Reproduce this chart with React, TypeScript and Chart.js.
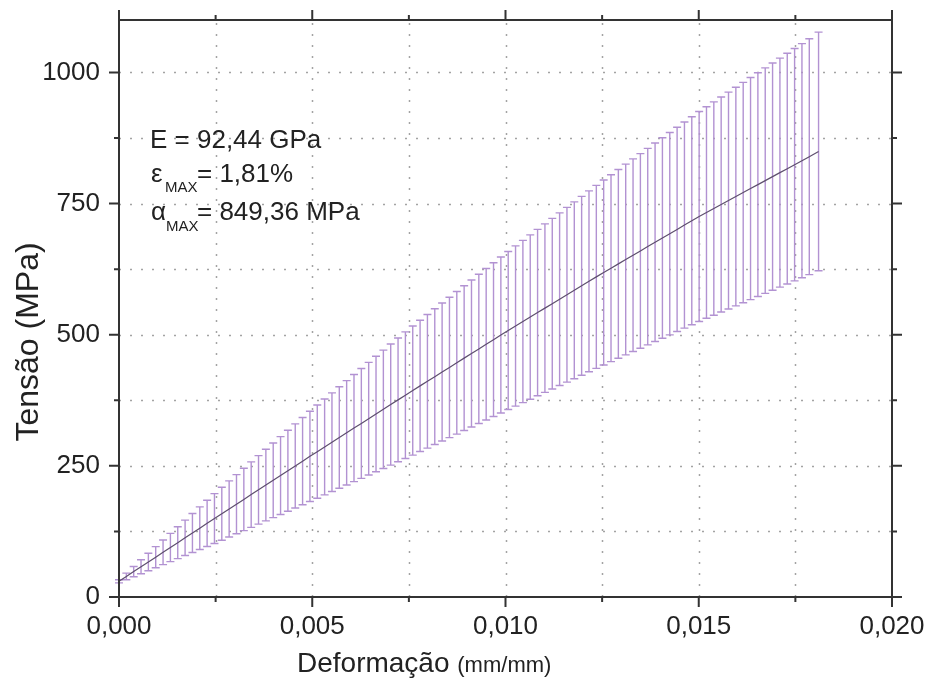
import React, { useEffect, useRef } from "react";
import { Chart, registerables } from "chart.js";

Chart.register(...registerables);

// Strain (mm/mm) of each averaged sample
const strain = [
  0.0, 0.00019, 0.00038, 0.00057, 0.00076, 0.00095, 0.00114, 0.00133, 0.00152, 0.00171,
  0.0019, 0.00209, 0.00228, 0.00247, 0.00266, 0.00285, 0.00304, 0.00323, 0.00342, 0.00361,
  0.0038, 0.00399, 0.00418, 0.00437, 0.00456, 0.00475, 0.00494, 0.00513, 0.00532, 0.00551,
  0.0057, 0.00589, 0.00608, 0.00627, 0.00646, 0.00665, 0.00684, 0.00703, 0.00722, 0.00741,
  0.0076, 0.00779, 0.00798, 0.00817, 0.00836, 0.00855, 0.00874, 0.00893, 0.00912, 0.00931,
  0.0095, 0.00969, 0.00988, 0.01007, 0.01026, 0.01045, 0.01064, 0.01083, 0.01102, 0.01121,
  0.0114, 0.01159, 0.01178, 0.01197, 0.01216, 0.01235, 0.01254, 0.01273, 0.01292, 0.01311,
  0.0133, 0.01349, 0.01368, 0.01387, 0.01406, 0.01425, 0.01444, 0.01463, 0.01482, 0.01501,
  0.0152, 0.01539, 0.01558, 0.01577, 0.01596, 0.01615, 0.01634, 0.01653, 0.01672, 0.01691,
  0.0171, 0.01729, 0.01748, 0.01767, 0.01786, 0.0181,
];

// Mean stress (MPa)
const meanStress = [
  30, 39.2, 48.4, 57.6, 66.8, 76.0, 85.2, 94.4, 103.6, 112.8,
  122.0, 131.2, 140.4, 149.5, 158.7, 167.8, 176.9, 186.0, 195.2, 204.3,
  213.4, 222.5, 231.6, 240.8, 249.9, 259.0, 268.1, 277.1, 286.1, 295.1,
  304.0, 313.0, 322.0, 330.9, 339.9, 348.9, 357.8, 366.8, 375.8, 384.8,
  393.6, 402.5, 411.3, 420.1, 428.9, 437.7, 446.5, 455.4, 464.2, 473.0,
  481.8, 490.6, 499.4, 508.1, 516.6, 525.2, 533.7, 542.2, 550.7, 559.2,
  567.7, 576.2, 584.7, 593.3, 601.8, 610.3, 618.7, 626.9, 635.1, 643.4,
  651.6, 659.8, 668.0, 676.2, 684.4, 692.6, 700.8, 709.0, 717.2, 725.4,
  733.0, 740.6, 748.2, 755.8, 763.4, 771.0, 778.6, 786.2, 793.8, 801.4,
  809.0, 816.6, 824.2, 831.8, 839.4, 849.4,
];

// Standard deviation (MPa) for the error bars
const stdDev = [
  3, 6.4, 9.8, 13.3, 16.7, 20.1, 23.5, 26.9, 30.4, 33.8,
  37.2, 40.6, 44.0, 47.5, 50.5, 53.5, 56.4, 59.4, 62.4, 65.3,
  68.3, 71.2, 74.2, 77.2, 80.1, 83.1, 86.1, 88.8, 91.5, 94.1,
  96.8, 99.5, 102.1, 104.8, 107.4, 110.1, 112.8, 115.4, 118.1, 120.7,
  123.1, 125.2, 127.4, 129.5, 131.6, 133.8, 135.9, 138.0, 140.1, 142.3,
  144.4, 146.5, 148.7, 150.7, 152.7, 154.7, 156.7, 158.6, 160.6, 162.6,
  164.6, 166.5, 168.5, 170.5, 172.5, 174.4, 176.4, 178.2, 180.0, 181.9,
  183.7, 185.5, 187.3, 189.2, 191.0, 192.8, 194.6, 196.5, 198.3, 200.1,
  201.7, 203.4, 205.0, 206.7, 208.4, 210.0, 211.7, 213.3, 215.0, 216.6,
  218.3, 219.9, 221.6, 223.2, 224.9, 227.4,
];

const xTickValues = [0, 0.005, 0.01, 0.015, 0.02];
const xMinorValues = [0.0025, 0.0075, 0.0125, 0.0175];
const yTickValues = [0, 250, 500, 750, 1000];
const yMinorValues = [125, 375, 625, 875];

const xTitleMain = "Deformação";
const xTitleUnit = "(mm/mm)";
const yTitle = "Tensão (MPa)";
const annotE = "E = 92,44 GPa";
const annotEps = ["ε", "MAX", "= 1,81%"];
const annotSigma = ["α", "MAX", "= 849,36 MPa"];

const FONT = "'Liberation Sans', Arial, Helvetica, sans-serif";
const TEXT = "#222222";

export default function App() {
  const ref = useRef<HTMLCanvasElement>(null);

  useEffect(() => {
    const canvas = ref.current;
    if (!canvas) return;

    const points = strain.map((x, i) => ({ x, y: meanStress[i] }));

    const decorPlugin = {
      id: "decor",
      beforeDatasetsDraw(chart: any) {
        const { ctx, chartArea: a, scales } = chart;
        const xs = scales.x;
        const ys = scales.y;
        ctx.save();
        // dotted grid
        ctx.strokeStyle = "#a3a3a3";
        ctx.lineWidth = 1.5;
        ctx.setLineDash([2, 9]);
        for (const v of [...xTickValues, ...xMinorValues]) {
          if (v <= 0 || v >= 0.02) continue;
          const px = Math.round(xs.getPixelForValue(v)) + 0.5;
          ctx.beginPath();
          ctx.moveTo(px, a.bottom);
          ctx.lineTo(px, a.top);
          ctx.stroke();
        }
        for (const v of [...yTickValues, ...yMinorValues]) {
          if (v <= 0) continue;
          const py = Math.round(ys.getPixelForValue(v)) + 0.5;
          ctx.beginPath();
          ctx.moveTo(a.left, py);
          ctx.lineTo(a.right, py);
          ctx.stroke();
        }
        ctx.setLineDash([]);
        // error bars
        ctx.strokeStyle = "#b292d2";
        ctx.lineWidth = 1.4;
        strain.forEach((s, i) => {
          const px = xs.getPixelForValue(s);
          const top = ys.getPixelForValue(meanStress[i] + stdDev[i]);
          const bot = ys.getPixelForValue(meanStress[i] - stdDev[i]);
          ctx.beginPath();
          ctx.moveTo(px, top);
          ctx.lineTo(px, bot);
          ctx.moveTo(px - 4, top);
          ctx.lineTo(px + 4, top);
          ctx.moveTo(px - 4, bot);
          ctx.lineTo(px + 4, bot);
          ctx.stroke();
        });
        ctx.restore();
      },
      afterDraw(chart: any) {
        const { ctx, chartArea: a, scales } = chart;
        const xs = scales.x;
        const ys = scales.y;
        ctx.save();
        // frame
        ctx.strokeStyle = "#333333";
        ctx.lineWidth = 2;
        ctx.strokeRect(a.left, a.top, a.right - a.left, a.bottom - a.top);
        // tick marks
        const drawX = (v: number, len: number) => {
          const px = xs.getPixelForValue(v);
          ctx.beginPath();
          ctx.moveTo(px, a.bottom);
          ctx.lineTo(px, a.bottom + len);
          ctx.moveTo(px, a.top);
          ctx.lineTo(px, a.top - len);
          ctx.stroke();
        };
        const drawY = (v: number, len: number) => {
          const py = ys.getPixelForValue(v);
          ctx.beginPath();
          ctx.moveTo(a.left, py);
          ctx.lineTo(a.left - len, py);
          ctx.moveTo(a.right, py);
          ctx.lineTo(a.right + len, py);
          ctx.stroke();
        };
        xTickValues.forEach((v) => drawX(v, 10));
        xMinorValues.forEach((v) => drawX(v, 5));
        yTickValues.forEach((v) => drawY(v, 10));
        yMinorValues.forEach((v) => drawY(v, 5));

        // axis titles
        ctx.fillStyle = TEXT;
        ctx.textBaseline = "alphabetic";
        ctx.textAlign = "left";
        ctx.font = `28px ${FONT}`;
        const mainW = ctx.measureText(xTitleMain + " ").width;
        const tx = 297;
        ctx.fillText(xTitleMain, tx, 672);
        ctx.font = `22px ${FONT}`;
        ctx.fillText(xTitleUnit, tx + mainW, 672);

        ctx.save();
        ctx.translate(29, 342);
        ctx.rotate(-Math.PI / 2);
        ctx.font = `32px ${FONT}`;
        ctx.textAlign = "center";
        ctx.textBaseline = "middle";
        ctx.fillText(yTitle, 0, 0);
        ctx.restore();

        // annotation
        ctx.textAlign = "left";
        ctx.textBaseline = "alphabetic";
        ctx.font = `26px ${FONT}`;
        ctx.fillText(annotE, 150, 148);
        ctx.fillText(annotEps[0], 151, 182);
        ctx.fillText(annotEps[2], 197, 182);
        ctx.fillText(annotSigma[0], 151, 220);
        ctx.fillText(annotSigma[2], 197, 220);
        ctx.font = `15px ${FONT}`;
        ctx.fillText(annotEps[1], 165, 192);
        ctx.fillText(annotSigma[1], 166, 231);
        ctx.restore();
      },
    };

    const chart = new Chart(canvas, {
      type: "line",
      data: {
        datasets: [
          {
            data: points,
            borderColor: "#5e4f6e",
            borderWidth: 1.2,
            pointRadius: 0,
            tension: 0,
            fill: false,
          },
        ],
      },
      options: {
        animation: false,
        responsive: false,
        devicePixelRatio: 1,
        layout: { padding: { left: 0, top: 20, right: 39, bottom: 0 } },
        plugins: { legend: { display: false }, tooltip: { enabled: false } },
        scales: {
          x: {
            type: "linear",
            min: 0,
            max: 0.02,
            afterBuildTicks: (s: any) => {
              s.ticks = xTickValues.map((v) => ({ value: v }));
            },
            afterFit: (s: any) => {
              s.height = 89;
              s.paddingLeft = 0;
              s.paddingRight = 0;
              s.paddingTop = 0;
              s.paddingBottom = 0;
            },
            grid: { display: false, drawTicks: false },
            border: { display: false },
            ticks: {
              autoSkip: false,
              maxRotation: 0,
              padding: 14,
              color: TEXT,
              font: { family: FONT, size: 26 },
              callback: (v: any) => Number(v).toFixed(3).replace(".", ","),
            },
          },
          y: {
            type: "linear",
            min: 0,
            max: 1100,
            afterBuildTicks: (s: any) => {
              s.ticks = yTickValues.map((v) => ({ value: v }));
            },
            afterFit: (s: any) => {
              s.width = 119;
              s.paddingLeft = 0;
              s.paddingRight = 0;
              s.paddingTop = 0;
              s.paddingBottom = 0;
            },
            grid: { display: false, drawTicks: false },
            border: { display: false },
            ticks: {
              autoSkip: false,
              padding: 19,
              color: TEXT,
              font: { family: FONT, size: 26 },
              callback: (v: any) => String(v),
            },
          },
        },
      },
      plugins: [decorPlugin],
    } as any);

    return () => chart.destroy();
  }, []);

  return (
    <div style={{ position: "absolute", left: 0, top: 0, width: 931, height: 686, background: "#ffffff" }}>
      <canvas ref={ref} width={931} height={686} style={{ display: "block", width: 931, height: 686 }} />
    </div>
  );
}
